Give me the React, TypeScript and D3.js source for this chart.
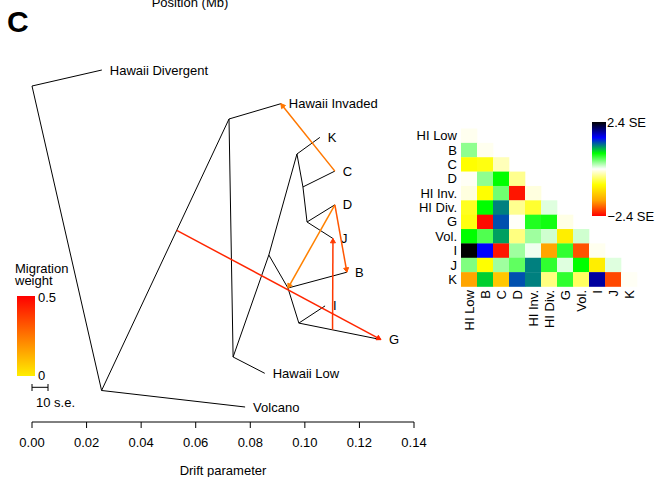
import React from "react";
import * as d3 from "d3";

// ---------- Tree data ----------
const leafNames = ["Volcano", "Hawaii Low", "G", "I", "B", "J", "D", "C", "K", "Hawaii Invaded", "Hawaii Divergent"];
const leafDrift = [0.0781, 0.0853, 0.1279, 0.1074, 0.1154, 0.1103, 0.111, 0.111, 0.1055, 0.0912, 0.0256];
const leafRank = [0, 1, 2, 3, 4, 5, 6, 7, 8, 9, 10];

const internalIds = ["R", "H0", "A", "Bn", "N1", "Cn", "X", "E", "F", "Gn"];
const internalDrift = [0.0255, 0.0, 0.0722, 0.0737, 0.0868, 0.0971, 0.0993, 0.1008, 0.0938, 0.0978];
const internalRank = [0.49, 9.525, 8.546, 1.484, 4.51, 7.507, 6.53, 5.49, 3.53, 2.49];

const edgeParents = ["R", "H0", "R", "R", "A", "A", "Bn", "Bn", "N1", "Cn", "Cn", "X", "X", "E", "E", "N1", "F", "F", "Gn", "Gn"];
const edgeChildren = ["H0", "Hawaii Divergent", "Volcano", "A", "Hawaii Invaded", "Bn", "Hawaii Low", "N1", "Cn", "K", "X", "C", "E", "D", "J", "F", "B", "Gn", "I", "G"];

// migration edges: source edge (parent -> child) at fraction, target node, weight
const migFromParent = ["X", "E", "E", "Gn", "R"];
const migFromChild = ["C", "D", "D", "G", "A"];
const migFrac = [1, 1, 1, 0.41, 0.59];
const migTo = ["Hawaii Invaded", "F", "B", "J", "G"];
const migWeight = [0.25, 0.23, 0.32, 0.38, 0.42];

const driftTicks = [0, 0.02, 0.04, 0.06, 0.08, 0.1, 0.12, 0.14];

// ---------- Residual heatmap data ----------
const popLabels = ["HI Low", "B", "C", "D", "HI Inv.", "HI Div.", "G", "Vol.", "I", "J", "K"];
const residRows: number[][] = [
  [-0.05],
  [0.35, -0.05],
  [-0.8, -0.75, -0.22],
  [-0.03, 0.35, 0.8, -0.35],
  [-0.1, -0.8, 0.45, -2.3, -0.1],
  [-0.7, 0.8, 1.2, -0.35, -0.65, 0.1],
  [-0.75, -2.35, 1.35, -0.02, 0.7, 0.75, -0.08],
  [0.8, 0.55, 1.1, -0.4, 0.3, 0.15, -0.95, 0.15],
  [2.4, 1.6, -2.3, 0.3, 0.05, -1.6, 0.65, -2.0, -0.05],
  [0.4, -0.8, 0.3, 0.5, 1.2, 0.65, 0.1, 0.8, -0.95, 0.1],
  [-1.6, 0.95, -1.3, 1.35, 1.2, -0.4, 0.65, -0.5, 1.9, -2.05, -0.03],
];
const residStops = [-2.4, -1.6, -0.8, 0, 0.8, 1.6, 2.4];
const residColors = ["#FF0000", "#FFA500", "#FFFF00", "#FFFFFF", "#00FF00", "#0000FF", "#000000"];

const FONT = "'Liberation Sans', Arial, Helvetica, sans-serif";

export default function App() {
  const x = d3.scaleLinear().domain([0, 0.14]).range([32, 414]);
  const y = d3.scaleLinear().domain([0, 10]).range([407, 70]);

  const pos: Record<string, [number, number]> = {};
  leafNames.forEach((n, i) => (pos[n] = [x(leafDrift[i]), y(leafRank[i])]));
  internalIds.forEach((n, i) => (pos[n] = [x(internalDrift[i]), y(internalRank[i])]));

  const migColor = d3.scaleLinear<string>().domain([0, 0.5]).range(["#FFEE00", "#FF0000"]);
  const residColor = d3.scaleLinear<string>().domain(residStops).range(residColors);

  const hx = d3.scaleBand<string>().domain(popLabels).range([461, 637]);
  const hy = d3.scaleBand<string>().domain(popLabels).range([128.5, 286.5]);

  const leafLabelDx = 8;

  return (
    <svg width={655} height={477} style={{ position: "absolute", left: 0, top: 0 }} fontFamily={FONT}>
      <rect width={655} height={477} fill="#fff" />
      <text x={190} y={6.5} fontSize={13} textAnchor="middle">Position (Mb)</text>
      <text x={7} y={31.5} fontSize={30} fontWeight="bold">C</text>

      {/* tree edges */}
      {edgeParents.map((p, i) => {
        const a = pos[p];
        const b = pos[edgeChildren[i]];
        return <line key={"e" + i} x1={a[0]} y1={a[1]} x2={b[0]} y2={b[1]} stroke="#000" strokeWidth={1} />;
      })}

      {/* leaf labels */}
      {leafNames.map((n, i) => (
        <text key={"l" + n} x={x(leafDrift[i]) + leafLabelDx} y={y(leafRank[i])} dy="0.35em" fontSize={13}>
          {n}
        </text>
      ))}

      {/* migration arrows */}
      {migFromParent.map((p, i) => {
        const a = pos[p];
        const b = pos[migFromChild[i]];
        const f = migFrac[i];
        const sx = a[0] + (b[0] - a[0]) * f;
        const sy = a[1] + (b[1] - a[1]) * f;
        const t = pos[migTo[i]];
        const ang = Math.atan2(t[1] - sy, t[0] - sx);
        const L = 5;
        const h1 = [t[0] - L * Math.cos(ang - Math.PI / 6), t[1] - L * Math.sin(ang - Math.PI / 6)];
        const h2 = [t[0] - L * Math.cos(ang + Math.PI / 6), t[1] - L * Math.sin(ang + Math.PI / 6)];
        const c = migColor(migWeight[i]);
        return (
          <g key={"m" + i}>
            <line x1={sx} y1={sy} x2={t[0]} y2={t[1]} stroke={c} strokeWidth={1.5} />
            <path d={`M${h1[0]},${h1[1]}L${t[0]},${t[1]}L${h2[0]},${h2[1]}Z`} fill={c} stroke={c} strokeWidth={1} />
          </g>
        );
      })}

      {/* migration weight legend */}
      <defs>
        <linearGradient id="migGrad" x1="0" y1="1" x2="0" y2="0">
          <stop offset="0" stopColor={migColor(0)} />
          <stop offset="1" stopColor={migColor(0.5)} />
        </linearGradient>
        <linearGradient id="resGrad" x1="0" y1="1" x2="0" y2="0">
          {residStops.map((s, i) => (
            <stop key={i} offset={(s + 2.4) / 4.8} stopColor={residColors[i]} />
          ))}
        </linearGradient>
      </defs>
      <text x={15} y={273} fontSize={13}>Migration</text>
      <text x={15} y={285} fontSize={13}>weight</text>
      <rect x={17} y={296} width={18} height={80} fill="url(#migGrad)" />
      <text x={38} y={297.5} dy="0.35em" fontSize={13}>0.5</text>
      <text x={38} y={375.5} dy="0.35em" fontSize={13}>0</text>
      <line x1={32} x2={48} y1={387.3} y2={387.3} stroke="#000" />
      <line x1={32} x2={32} y1={384} y2={391} stroke="#000" />
      <line x1={48} x2={48} y1={384} y2={391} stroke="#000" />
      <text x={36} y={406.5} fontSize={13}>10 s.e.</text>

      {/* x axis */}
      <line x1={x(0)} x2={x(0.14)} y1={422} y2={422} stroke="#000" />
      {driftTicks.map((t) => (
        <g key={"t" + t}>
          <line x1={x(t)} x2={x(t)} y1={422} y2={428} stroke="#000" />
          <text x={x(t)} y={446.5} fontSize={13} textAnchor="middle">{d3.format(".2f")(t)}</text>
        </g>
      ))}
      <text x={(x(0) + x(0.14)) / 2} y={475} fontSize={13} textAnchor="middle">Drift parameter</text>

      {/* residual heatmap */}
      {residRows.map((row, r) =>
        row.map((v, cIdx) => (
          <rect
            key={`h${r}-${cIdx}`}
            x={hx(popLabels[cIdx])}
            y={hy(popLabels[r])}
            width={hx.bandwidth() + 0.3}
            height={hy.bandwidth() + 0.3}
            fill={residColor(v)}
          />
        ))
      )}
      {popLabels.map((p) => (
        <text key={"rl" + p} x={457} y={(hy(p) as number) + hy.bandwidth() / 2} dy="0.35em" fontSize={13} textAnchor="end">
          {p}
        </text>
      ))}
      {popLabels.map((p) => {
        const cx = (hx(p) as number) + hx.bandwidth() / 2;
        return (
          <text key={"cl" + p} transform={`translate(${cx},290) rotate(-90)`} dy="0.35em" fontSize={13} textAnchor="end">
            {p}
          </text>
        );
      })}
      <rect x={592} y={122} width={14} height={94} fill="url(#resGrad)" />
      <text x={607} y={122} dy="0.35em" fontSize={13}>2.4 SE</text>
      <text x={607.5} y={216} dy="0.35em" fontSize={13}>{"\u22122.4 SE"}</text>
    </svg>
  );
}
